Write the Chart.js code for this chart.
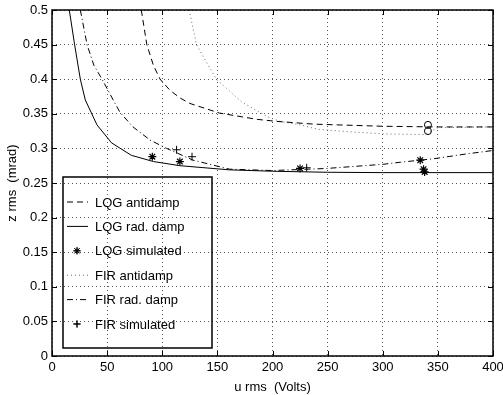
<!DOCTYPE html>
<html>
<head>
<meta charset="utf-8">
<script src="https://cdn.jsdelivr.net/npm/chart.js@4/dist/chart.umd.min.js"></script>
<style>
  html, body { margin: 0; padding: 0; background: #fff; }
  #wrap { width: 503px; height: 395px; }
</style>
</head>
<body>
<div id="wrap"><canvas id="chart" width="503" height="395"></canvas></div>
<script>
// tick values
const xTicks = [0, 50, 100, 150, 200, 250, 300, 350, 400];
const yTicks = [0, 0.05, 0.1, 0.15, 0.2, 0.25, 0.3, 0.35, 0.4, 0.45, 0.5];

// LQG antidamp (dashed)
const lqgAntiU = [81, 86, 92, 98, 107, 116, 125, 152, 186, 204, 238, 300, 350, 400];
const lqgAntiZ = [0.5, 0.45, 0.42, 0.4, 0.384, 0.373, 0.365, 0.351, 0.342, 0.339, 0.335, 0.332, 0.331, 0.331];

// LQG rad. damp (solid)
const lqgRadU = [15.7, 20.5, 25.7, 30.2, 40.8, 54, 72, 92, 116, 161, 200, 250, 300, 400];
const lqgRadZ = [0.5, 0.45, 0.4, 0.37, 0.334, 0.308, 0.29, 0.281, 0.275, 0.269, 0.267, 0.2655, 0.265, 0.265];

// LQG simulated (*)
const lqgSimU = [91, 116, 225, 334, 337, 338];
const lqgSimZ = [0.288, 0.281, 0.271, 0.283, 0.27, 0.266];

// FIR antidamp (dotted)
const firAntiU = [124.5, 131, 149, 163, 172, 182, 195, 207, 225, 241, 270, 300, 338, 350, 400];
const firAntiZ = [0.5, 0.45, 0.4, 0.38, 0.367, 0.358, 0.346, 0.339, 0.334, 0.3276, 0.324, 0.321, 0.32, 0.33, 0.331];

// FIR rad. damp (dash-dot)
const firRadU = [25.7, 31.8, 38, 45.4, 55.5, 61.7, 73.5, 89, 104, 128, 161, 200, 249, 300, 316, 346, 376, 400];
const firRadZ = [0.5, 0.45, 0.42, 0.4, 0.37, 0.352, 0.331, 0.312, 0.3, 0.283, 0.27, 0.268, 0.271, 0.277, 0.28, 0.285, 0.292, 0.297];

// FIR simulated (+)
const firSimU = [113, 127, 231];
const firSimZ = [0.298, 0.288, 0.272];

// extra circle markers (not in legend)
const circU = [341, 341];
const circZ = [0.334, 0.325];

function pts(u, z) {
  return u.map((v, i) => ({ x: v, y: z[i] }));
}

const FONT = "'Liberation Sans', Arial, Helvetica, sans-serif";

const lineDefaults = {
  showLine: true,
  borderColor: "#000",
  borderWidth: 1,
  pointRadius: 0,
  fill: false,
  tension: 0,
};

const datasets = [
  Object.assign({}, lineDefaults, { label: "LQG antidamp", data: pts(lqgAntiU, lqgAntiZ), borderDash: [6, 4] }),
  Object.assign({}, lineDefaults, { label: "LQG rad. damp", data: pts(lqgRadU, lqgRadZ) }),
  { label: "LQG simulated", data: pts(lqgSimU, lqgSimZ), showLine: false, pointStyle: "star",
    pointRadius: 4, borderColor: "#000", borderWidth: 1.2, backgroundColor: "#000" },
  Object.assign({}, lineDefaults, { label: "FIR antidamp", data: pts(firAntiU, firAntiZ), borderDash: [1, 3], borderColor: "#666" }),
  Object.assign({}, lineDefaults, { label: "FIR rad. damp", data: pts(firRadU, firRadZ), borderDash: [6, 3, 1, 3] }),
  { label: "FIR simulated", data: pts(firSimU, firSimZ), showLine: false, pointStyle: "cross",
    pointRadius: 4, borderColor: "#000", borderWidth: 1, backgroundColor: "#000" },
  { label: "", data: pts(circU, circZ), showLine: false, pointStyle: "circle",
    pointRadius: 3.5, borderColor: "#000", borderWidth: 1, backgroundColor: "rgba(0,0,0,0)" },
];

// frame, inward ticks and legend box (matlab style)
const framePlugin = {
  id: "frame",
  afterDraw(c) {
    const ctx = c.ctx;
    const a = c.chartArea;
    const xs = c.scales.x, ys = c.scales.y;
    ctx.save();
    ctx.strokeStyle = "#000";
    ctx.lineWidth = 1;
    ctx.setLineDash([]);
    ctx.beginPath();
    xTicks.forEach(t => {
      const px = Math.round(xs.getPixelForValue(t)) + 0.5;
      ctx.moveTo(px, a.bottom); ctx.lineTo(px, a.bottom - 5);
      ctx.moveTo(px, a.top); ctx.lineTo(px, a.top + 5);
    });
    yTicks.forEach(t => {
      const py = Math.round(ys.getPixelForValue(t)) + 0.5;
      ctx.moveTo(a.left, py); ctx.lineTo(a.left + 5, py);
      ctx.moveTo(a.right, py); ctx.lineTo(a.right - 5, py);
    });
    ctx.stroke();
    ctx.lineWidth = 1.5;
    ctx.strokeRect(a.left, a.top, a.right - a.left, a.bottom - a.top);

    // legend
    const lx = 63, ly = 177, lw = 149, lh = 171;
    ctx.lineWidth = 1.5;
    ctx.strokeRect(lx, ly, lw, lh);
    ctx.font = "13px " + FONT;
    ctx.fillStyle = "#000";
    ctx.textBaseline = "middle";
    c.data.datasets.forEach((ds, i) => {
      if (!ds.label) return;
      const y = 202 + i * 24.4;
      ctx.lineWidth = 1;
      if (ds.showLine) {
        ctx.strokeStyle = ds.borderColor;
        ctx.setLineDash(ds.borderDash || []);
        ctx.beginPath();
        ctx.moveTo(67, y); ctx.lineTo(88, y);
        ctx.stroke();
        ctx.setLineDash([]);
      } else {
        Chart.helpers.drawPoint(ctx, {
          pointStyle: ds.pointStyle, radius: 3.5, borderWidth: 1, rotation: 0
        }, 77, y);
        ctx.strokeStyle = "#000";
        ctx.stroke();
      }
      ctx.fillText(ds.label, 95, y + 1);
    });
    ctx.restore();
  },
};

new Chart(document.getElementById("chart"), {
  type: "scatter",
  data: { datasets },
  plugins: [framePlugin],
  options: {
    responsive: false,
    animation: false,
    layout: { padding: { top: 10, right: 10, left: 0, bottom: 0 } },
    plugins: { legend: { display: false }, tooltip: { enabled: false } },
    scales: {
      x: {
        type: "linear",
        min: 0, max: 400,
        afterBuildTicks: s => { s.ticks = xTicks.map(v => ({ value: v })); },
        afterFit: s => { s.height = 39; s.paddingLeft = 0; s.paddingRight = 0; },
        border: { display: false, dash: [1, 3] },
        grid: { color: "#555", lineWidth: 1, drawTicks: false },
        ticks: { color: "#000", font: { family: FONT, size: 13 }, padding: 4, maxRotation: 0,
                 callback: v => String(v) },
        title: { display: true, text: "u rms  (Volts)", color: "#000",
                 font: { family: FONT, size: 13 }, padding: { top: -3, bottom: 0 } },
      },
      y: {
        type: "linear",
        min: 0, max: 0.5,
        afterBuildTicks: s => { s.ticks = yTicks.map(v => ({ value: v })); },
        afterFit: s => { s.width = 52; s.paddingTop = 0; s.paddingBottom = 0; },
        border: { display: false, dash: [1, 3] },
        grid: { color: "#555", lineWidth: 1, drawTicks: false },
        ticks: { color: "#000", font: { family: FONT, size: 13 }, padding: 4,
                 callback: v => String(Math.round(v * 100) / 100) },
        title: { display: true, text: "z rms  (mrad)", color: "#000",
                 font: { family: FONT, size: 13 }, padding: { top: 5, bottom: 0 } },
      },
    },
  },
});
</script>
</body>
</html>
